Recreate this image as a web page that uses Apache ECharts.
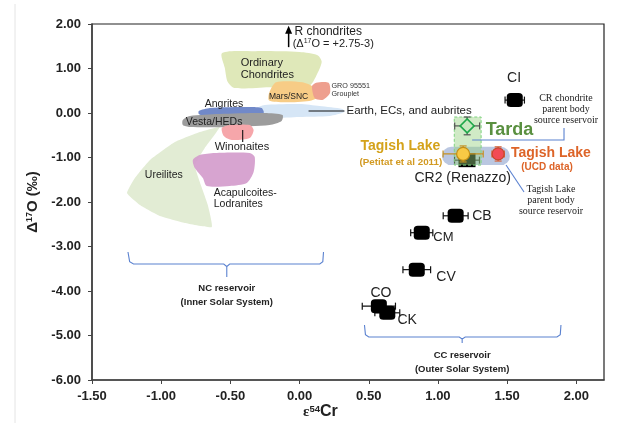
<!DOCTYPE html>
<html>
<head>
<meta charset="utf-8">
<script src="https://cdn.jsdelivr.net/npm/echarts@6/dist/echarts.min.js"></script>
<style>
html, body { margin: 0; padding: 0; background: #fff; }
#chart { width: 618px; height: 423px; }
</style>
</head>
<body>
<div id="chart"></div>
<script>
// x = epsilon 54Cr, y = Delta 17O (permil)
var xTicks = [-1.5, -1, -0.5, 0, 0.5, 1, 1.5, 2];
var yTicks = [-6, -5, -4, -3, -2, -1, 0, 1, 2];

// carbonaceous chondrite groups (black squares)
var ccGroups = ['CI', 'CB', 'CM', 'CV', 'CO', 'CK'];
var ccCr = [1.555, 1.128, 0.883, 0.847, 0.573, 0.634];
var ccO = [0.29, -2.31, -2.69, -3.52, -4.34, -4.49];
var ccCrErr = [0.07, 0.09, 0.08, 0.1, 0.12, 0.09];

// CR2 (Renazzo), Tarda and the two Tagish Lake values: [cr, o], errors [crErr, oErr]
var cr2 = [1.21, -1.06];
var cr2Err = [0.09, 0];
var tarda = [1.211, -0.29];
var tardaErr = [0.09, 0.2];
var tagishPetitat = [1.182, -0.92];
var tagishPetitatErr = [0.145, 0.18];
var tagishUcd = [1.435, -0.92];
var tagishUcdErr = [0.045, 0.16];

// reservoir boxes: [[xMin, yMax], [xMax, yMin]]
var tardaBox = [[1.118, -0.09], [1.312, -1.17]];
var tagishReservoir = [[1.03, -0.76], [1.52, -1.17]];

// meteorite group fields (outlines in data units)
var ureilitesShape = [[-0.577, -0.315], [-0.721, -0.427], [-0.901, -0.652], [-1.081, -1.056], [-1.19, -1.461],
  [-1.247, -1.798], [-1.154, -2.067], [-1.009, -2.315], [-0.829, -2.472], [-0.634, -2.562], [-0.663, -2.067],
  [-0.721, -1.551], [-0.757, -1.169], [-0.685, -0.787]];
var ordinaryShape = [[-0.56, 1.35], [-0.32, 1.39], [0, 1.37], [0.13, 1.30], [0.16, 1.15], [0.12, 0.83],
  [0.07, 0.61], [-0.22, 0.58], [-0.47, 0.56], [-0.52, 0.70], [-0.54, 1.01]];
var marsShape = [[-0.22, 0.45], [-0.17, 0.69], [0.02, 0.69], [0.10, 0.58], [0.13, 0.36], [0.07, 0.27],
  [-0.11, 0.24], [-0.22, 0.28]];
var groShape = [[0.09, 0.60], [0.12, 0.68], [0.21, 0.68], [0.22, 0.45], [0.17, 0.30], [0.11, 0.33]];
var earthShape = [[-0.303, 0.112], [-0.252, 0.18], [0, 0.202], [0.144, 0.157], [0.31, 0.09], [0.324, 0.022],
  [0.216, -0.067], [0, -0.09], [-0.216, -0.112], [-0.303, -0.045]];
var angritesShape = [[-0.728, 0.045], [-0.649, 0.112], [-0.36, 0.135], [-0.274, 0.112], [-0.26, 0],
  [-0.433, -0.067], [-0.685, -0.067], [-0.728, -0.022]];
var vestaShape = [[-0.844, -0.157], [-0.793, -0.067], [-0.577, -0.022], [-0.252, 0], [-0.123, -0.045],
  [-0.13, -0.18], [-0.216, -0.27], [-0.505, -0.315], [-0.793, -0.315], [-0.844, -0.27]];
var winonaitesShape = [[-0.562, -0.337], [-0.505, -0.27], [-0.36, -0.27], [-0.332, -0.382], [-0.36, -0.562],
  [-0.49, -0.607], [-0.548, -0.517]];
var acapulcoitesShape = [[-0.771, -1.056], [-0.721, -0.944], [-0.613, -0.899], [-0.36, -0.899], [-0.324, -0.989],
  [-0.332, -1.326], [-0.382, -1.573], [-0.505, -1.64], [-0.671, -1.64], [-0.699, -1.461], [-0.757, -1.236]];

var FONT = '"Liberation Sans", Arial, sans-serif';
var SERIF = '"Liberation Serif", "Times New Roman", serif';

var chart = echarts.init(document.getElementById('chart'));

// filled field
function fieldSeries(shape, color, z, smooth) {
    return {
        type: 'custom', silent: true, z: z,
        data: [shape[0]],
        renderItem: function (params, api) {
            return {
                type: 'polygon',
                shape: { points: shape.map(function (p) { return api.coord(p); }), smooth: smooth == null ? 0.25 : smooth },
                style: { fill: color }
            };
        }
    };
}

// rectangle between two corners
function boxSeries(box, style, radius, z) {
    return {
        type: 'custom', silent: true, z: z,
        data: [box[0]],
        renderItem: function (params, api) {
            var a = api.coord(box[0]), b = api.coord(box[1]);
            var h = b[1] - a[1];
            return {
                type: 'rect',
                shape: { x: a[0], y: a[1], width: b[0] - a[0], height: h, r: radius ? h / 2 : 0 },
                style: style
            };
        }
    };
}

function seg(p, q, color, w) {
    return { type: 'line', shape: { x1: p[0], y1: p[1], x2: q[0], y2: q[1] }, style: { stroke: color, lineWidth: w || 1.2 } };
}

// horizontal / vertical error bars with caps
function errorSeries(points, errs, color, z) {
    return {
        type: 'custom', silent: true, z: z,
        data: points.map(function (p, i) { return [p[0], p[1], errs[i][0], errs[i][1]]; }),
        renderItem: function (params, api) {
            var x = api.value(0), y = api.value(1), ex = api.value(2), ey = api.value(3);
            var kids = [], c = 3.5;
            if (ex > 0) {
                var l = api.coord([x - ex, y]), r = api.coord([x + ex, y]);
                kids.push(seg(l, r, color), seg([l[0], l[1] - c], [l[0], l[1] + c], color), seg([r[0], r[1] - c], [r[0], r[1] + c], color));
            }
            if (ey > 0) {
                var t = api.coord([x, y + ey]), b = api.coord([x, y - ey]);
                kids.push(seg(t, b, color), seg([t[0] - c, t[1]], [t[0] + c, t[1]], color), seg([b[0] - c, b[1]], [b[0] + c, b[1]], color));
            }
            return { type: 'group', children: kids };
        }
    };
}

function markerSeries(points, symbol, size, style, z) {
    style.opacity = 1;
    return {
        type: 'scatter', silent: true, z: z,
        symbol: symbol, symbolSize: size,
        data: points,
        itemStyle: style
    };
}

// pointer lines and braces
var noteLines = [
    { pts: [[0.065, 0.045], [0.324, 0.045]], color: '#111' },
    { pts: [[-0.411, -0.382], [-0.411, -0.652]], color: '#111' },
    { pts: [[1.247, -0.607], [1.911, -0.607], [1.911, -0.337]], color: '#5b82d0' },
    { pts: [[1.492, -1.169], [1.622, -1.775]], color: '#5b82d0' },
    { pts: [[-1.24, -3.124], [-1.228, -3.34], [-1.2, -3.393], [-0.548, -3.393], [-0.526, -3.45], [-0.526, -3.685],
        [-0.526, -3.45], [-0.505, -3.393], [0.146, -3.393], [0.168, -3.34], [0.173, -3.124]], color: '#5b82d0' },
    { pts: [[0.469, -4.764], [0.476, -4.98], [0.5, -5.034], [1.154, -5.034], [1.175, -5.08], [1.175, -5.169],
        [1.175, -5.08], [1.197, -5.034], [1.86, -5.034], [1.884, -4.98], [1.889, -4.764]], color: '#5b82d0' }
];

// text notes: anchor in data units
var notes = [
    { at: [-0.425, 0.99], text: 'Ordinary\nChondrites', size: 11, align: 'left', lh: 12 },
    { at: [-0.079, 0.36], text: 'Mars/SNC', size: 8.5 },
    { at: [0.231, 0.517], text: 'GRO 95551\nGrouplet', size: 7.2, align: 'left', lh: 8.5, color: '#333' },
    { at: [0.339, 0.045], text: 'Earth, ECs, and aubrites', size: 11.5, align: 'left' },
    { at: [-0.685, 0.202], text: 'Angrites', size: 10.5, align: 'left' },
    { at: [-0.822, -0.202], text: 'Vesta/HEDs', size: 10.5, align: 'left' },
    { at: [-0.613, -0.764], text: 'Winonaites', size: 11, align: 'left' },
    { at: [-1.118, -1.393], text: 'Ureilites', size: 10.5, align: 'left' },
    { at: [-0.62, -1.92], text: 'Acapulcoites-\nLodranites', size: 10.5, align: 'left', lh: 11.5 },
    { at: [-0.036, 1.82], text: 'R chondrites', size: 12, align: 'left' },
    { at: [-0.05, 1.55], text: '(Δ{s|17}O = +2.75-3)', size: 11, align: 'left' },
    { at: [1.55, 0.79], text: 'CI', size: 14 },
    { at: [1.247, -2.31], text: 'CB', size: 14, align: 'left' },
    { at: [0.966, -2.79], text: 'CM', size: 13, align: 'left' },
    { at: [0.988, -3.685], text: 'CV', size: 14, align: 'left' },
    { at: [0.588, -4.045], text: 'CO', size: 14 },
    { at: [0.707, -4.65], text: 'CK', size: 14, align: 'left' },
    { at: [1.179, -1.46], text: 'CR2 (Renazzo)', size: 14 },
    { at: [1.345, -0.38], text: 'Tarda', size: 18, bold: true, align: 'left', color: '#5a9040' },
    { at: [1.017, -0.742], text: 'Tagish Lake', size: 14, bold: true, align: 'right', color: '#d4a21a' },
    { at: [1.031, -1.1], text: '(Petitat et al 2011)', size: 9.8, bold: true, align: 'right', color: '#d29a22' },
    { at: [1.528, -0.899], text: 'Tagish Lake', size: 14, bold: true, align: 'left', color: '#dd6428' },
    { at: [1.788, -1.213], text: '(UCD data)', size: 10, bold: true, color: '#dd6428' },
    { at: [1.925, 0.09], text: 'CR chondrite\nparent body\nsource reservoir', size: 10, serif: true, lh: 11 },
    { at: [1.817, -1.955], text: 'Tagish Lake\nparent body\nsource reservoir', size: 10, serif: true, lh: 11 },
    { at: [-0.526, -4.09], text: 'NC reservoir\n(Inner Solar System)', size: 9.5, bold: true, lh: 14 },
    { at: [1.175, -5.6], text: 'CC reservoir\n(Outer Solar System)', size: 9.5, bold: true, lh: 14 }
];

// arrow to R chondrites
var arrowFrom = [-0.079, 1.48];
var arrowTo = [-0.079, 1.96];

var options = {
    animation: false,
    textStyle: { fontFamily: FONT },
    grid: { left: 92, right: 14, top: 24, bottom: 43, show: true, borderColor: '#222', borderWidth: 1.2 },
    xAxis: {
        type: 'value', min: -1.5, max: 2.2, interval: 0.5,
        splitLine: { show: false },
        axisLine: { onZero: false, lineStyle: { color: '#444', width: 1.6 } },
        axisTick: { customValues: xTicks, length: 4, lineStyle: { color: '#444' } },
        axisLabel: {
            customValues: xTicks, margin: 10, fontSize: 13, fontWeight: 'bold', color: '#222', fontFamily: FONT,
            formatter: function (v) { return v.toFixed(2); }
        }
    },
    yAxis: {
        type: 'value', min: -6, max: 2, interval: 1,
        splitLine: { show: false },
        axisLine: { onZero: false, lineStyle: { color: '#444', width: 1.6 } },
        axisTick: { customValues: yTicks, length: 4, lineStyle: { color: '#444' } },
        axisLabel: {
            customValues: yTicks, margin: 11, fontSize: 13, fontWeight: 'bold', color: '#222', fontFamily: FONT,
            formatter: function (v) { return v.toFixed(2); }
        },
        name: '{a|Δ}{s|17}{a|O (‰)}',
        nameLocation: 'middle', nameGap: 52, nameRotate: 90,
        nameTextStyle: {
            rich: {
                a: { fontSize: 15, fontWeight: 'bold', color: '#222', fontFamily: FONT },
                s: { fontSize: 9, fontWeight: 'bold', color: '#222', fontFamily: FONT, verticalAlign: 'top' }
            }
        }
    },
    graphic: [
        { type: 'line', shape: { x1: 15, y1: 4, x2: 15, y2: 423 }, style: { stroke: '#e4e4e4', lineWidth: 1 } },
        {
            type: 'text', left: 303, top: 404,
            style: {
                text: '{e|ε}{s|54}{c|Cr}',
                rich: {
                    e: { fontSize: 15, fontWeight: 'bold', fill: '#222', fontFamily: SERIF },
                    s: { fontSize: 9.5, fontWeight: 'bold', fill: '#222', fontFamily: FONT, verticalAlign: 'top' },
                    c: { fontSize: 16, fontWeight: 'bold', fill: '#222', fontFamily: FONT }
                }
            }
        }
    ],
    series: [
        fieldSeries(ureilitesShape, '#e2ecd4', 1, 0.12),
        fieldSeries(ordinaryShape, '#dfe8b9', 1),
        fieldSeries(marsShape, '#f7cc86', 2),
        fieldSeries(groShape, '#ee9f8e', 2),
        fieldSeries(earthShape, '#d6e6f6', 2),
        fieldSeries(angritesShape, '#7189c9', 3),
        fieldSeries(vestaShape, '#9c9c9c', 4),
        fieldSeries(winonaitesShape, '#f6a6aa', 4),
        fieldSeries(acapulcoitesShape, 'rgba(212,156,204,0.92)', 4),

        // Tagish Lake reservoir capsule
        boxSeries(tagishReservoir, { fill: 'rgba(140,162,205,0.6)' }, true, 5),

        // CC groups
        errorSeries(ccCr.map(function (c, i) { return [c, ccO[i]]; }),
            ccCrErr.map(function (e) { return [e, 0]; }), '#111', 6),
        markerSeries(ccCr.map(function (c, i) { return [c, ccO[i]]; }), 'roundRect', [16, 14], { color: '#000' }, 7),

        // CR2 under the Tarda box
        errorSeries([cr2], [cr2Err], '#333', 6),
        markerSeries([cr2], 'rect', [17, 14], { color: '#000' }, 7),
        boxSeries(tardaBox, { fill: 'rgba(150,208,128,0.45)', stroke: '#7fd37f', lineWidth: 1, lineDash: [3, 2] }, false, 8),

        // Tarda
        errorSeries([tarda], [tardaErr], '#555', 9),
        markerSeries([tarda], 'diamond', 14, { color: '#c8e8c0', borderColor: '#1fa84a', borderWidth: 1.6 }, 10),

        // Tagish Lake (Petitat et al 2011)
        errorSeries([tagishPetitat], [tagishPetitatErr], '#c49020', 9),
        markerSeries([tagishPetitat], 'circle', 13, { color: '#f8c945', borderColor: '#c28f16', borderWidth: 1.2 }, 10),

        // Tagish Lake (UCD)
        errorSeries([tagishUcd], [tagishUcdErr], '#d8653a', 9),
        markerSeries([tagishUcd], 'circle', 12, { color: '#f24b55', borderColor: '#c9462a', borderWidth: 1.2 }, 10),

        // pointer lines, braces, arrow
        {
            type: 'custom', silent: true, z: 11,
            data: noteLines.map(function (l) { return l.pts[0]; }),
            renderItem: function (params, api) {
                var l = noteLines[params.dataIndex];
                return {
                    type: 'polyline',
                    shape: { points: l.pts.map(function (p) { return api.coord(p); }) },
                    style: { stroke: l.color, lineWidth: 1.1, fill: null }
                };
            }
        },
        {
            type: 'custom', silent: true, z: 11,
            data: [arrowFrom],
            renderItem: function (params, api) {
                var a = api.coord(arrowFrom), b = api.coord(arrowTo);
                return {
                    type: 'group', children: [
                        seg(a, [b[0], b[1] + 5], '#000', 1.5),
                        { type: 'polygon', shape: { points: [[b[0], b[1]], [b[0] - 3.5, b[1] + 8], [b[0] + 3.5, b[1] + 8]] }, style: { fill: '#000' } }
                    ]
                };
            }
        },
        {
            type: 'custom', silent: true, z: 12,
            data: notes.map(function (n) { return n.at; }),
            renderItem: function (params, api) {
                var n = notes[params.dataIndex];
                var p = api.coord(n.at);
                var fam = n.serif ? SERIF : FONT;
                return {
                    type: 'text', x: p[0], y: p[1],
                    style: {
                        text: n.text,
                        font: (n.bold ? 'bold ' : '') + n.size + 'px ' + fam,
                        fill: n.color || '#222',
                        align: n.align || 'center',
                        verticalAlign: 'middle',
                        lineHeight: n.lh || n.size + 2,
                        rich: { s: { fontSize: 7, fontFamily: fam, fill: n.color || '#222', verticalAlign: 'top' } }
                    }
                };
            }
        }
    ]
};

chart.setOption(options);
</script>
</body>
</html>
